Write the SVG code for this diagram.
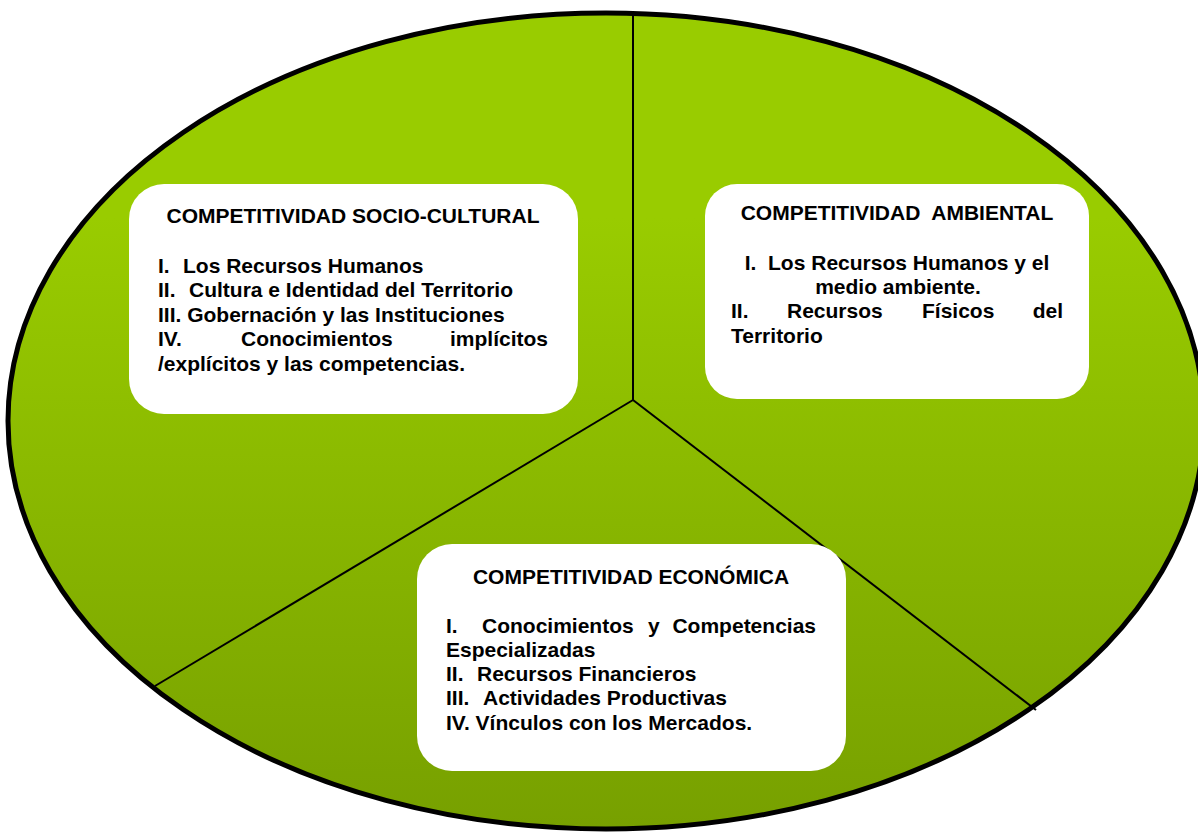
<svg xmlns="http://www.w3.org/2000/svg" width="1198" height="832" viewBox="0 0 1198 832">
<defs>
<linearGradient id="g" x1="0" y1="0" x2="0" y2="1">
<stop offset="0" stop-color="#99cc00"/>
<stop offset="0.25" stop-color="#99cc00"/>
<stop offset="1" stop-color="#77a000"/>
</linearGradient>
<style>
.box{fill:#ffffff;stroke:none}
.t{font-family:"Liberation Sans",Arial,sans-serif;font-weight:bold;font-size:21px;fill:#000;white-space:pre}
.c{text-anchor:middle}
.e{text-anchor:end}
.ln{stroke:#000;stroke-width:2;fill:none}
</style>
</defs>
<rect width="1198" height="832" fill="#ffffff"/>
<g id="ellipse">
<ellipse cx="606" cy="421" rx="598" ry="408" fill="url(#g)" stroke="#000" stroke-width="5"/>
</g>
<g id="connectors">
<line class="ln" x1="633" y1="400" x2="633" y2="15"/>
<line class="ln" x1="633" y1="400" x2="155" y2="686"/>
<line class="ln" x1="633" y1="400" x2="1036" y2="710"/>
</g>
<g id="socio-cultural">
<rect class="box" x="129" y="184" width="449" height="230" rx="35"/>
<text class="t c" x="353" y="223">COMPETITIVIDAD SOCIO-CULTURAL</text>
<text class="t" y="273"><tspan x="158">I.</tspan><tspan x="183">Los Recursos Humanos</tspan></text>
<text class="t" y="297"><tspan x="158">II.</tspan><tspan x="189">Cultura e Identidad del Territorio</tspan></text>
<text class="t" y="322"><tspan x="158">III. Gobernación y las Instituciones</tspan></text>
<text class="t" y="346"><tspan x="158">IV.</tspan><tspan x="241">Conocimientos</tspan></text>
<text class="t e" x="548" y="346">implícitos</text>
<text class="t" x="158" y="371">/explícitos y las competencias.</text>
</g>
<g id="ambiental">
<rect class="box" x="705" y="184" width="384" height="215" rx="32"/>
<text class="t c" x="897" y="220">COMPETITIVIDAD  AMBIENTAL</text>
<text class="t c" x="897" y="270">I.  Los Recursos Humanos y el</text>
<text class="t c" x="898" y="294">medio ambiente.</text>
<text class="t" y="318"><tspan x="731">II.</tspan><tspan x="787">Recursos</tspan><tspan x="922">Físicos</tspan></text>
<text class="t e" x="1063" y="318">del</text>
<text class="t" x="731" y="343">Territorio</text>
</g>
<g id="economica">
<rect class="box" x="417" y="544" width="429" height="227" rx="35"/>
<text class="t c" x="631" y="584">COMPETITIVIDAD ECONÓMICA</text>
<text class="t" y="633"><tspan x="446">I.</tspan><tspan x="482">Conocimientos</tspan><tspan x="648">y</tspan></text>
<text class="t e" x="816" y="633">Competencias</text>
<text class="t" x="446" y="657">Especializadas</text>
<text class="t" y="681"><tspan x="446">II.</tspan><tspan x="477">Recursos Financieros</tspan></text>
<text class="t" y="705"><tspan x="446">III.</tspan><tspan x="483">Actividades Productivas</tspan></text>
<text class="t" y="730"><tspan x="446">IV. Vínculos con los Mercados.</tspan></text>
</g>
</svg>
